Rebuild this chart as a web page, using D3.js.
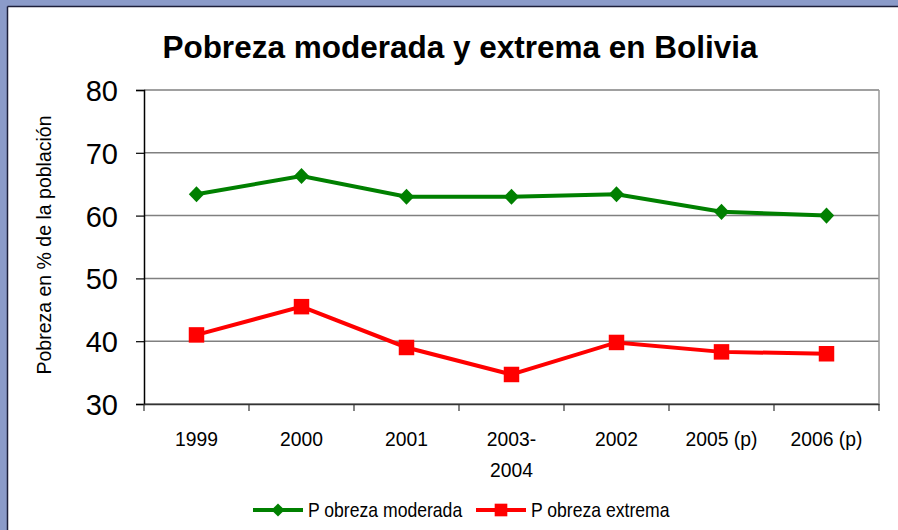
<!DOCTYPE html>
<html>
<head>
<meta charset="utf-8">
<script src="https://cdn.jsdelivr.net/npm/d3@7/dist/d3.min.js"></script>
<style>
  body { margin: 0; background: #8b9bc9; }
  svg { display: block; }
  text { font-family: "Liberation Sans", Arial, sans-serif; fill: #000; }
</style>
</head>
<body>
<div class="chart"></div>
<script>
var width = 898,
    height = 530;

// data
var categories = ["1999", "2000", "2001", "2003-2004", "2002", "2005 (p)", "2006 (p)"];
var catLabels = [["1999"], ["2000"], ["2001"], ["2003-", "2004"], ["2002"], ["2005 (p)"], ["2006 (p)"]];
var moderada = [63.4, 66.3, 63.0, 63.0, 63.4, 60.6, 60.0];
var extrema = [41.0, 45.5, 39.0, 34.7, 39.8, 38.3, 38.0];
var yTicks = [30, 40, 50, 60, 70, 80];
var seriesNames = ["P obreza moderada", "P obreza extrema"];

var margin = {top: 90, right: 19, bottom: 126, left: 144};

var svg = d3.select(".chart").append("svg")
    .attr("width", width)
    .attr("height", height);

// frame: blue band top/left with dark edge
svg.append("rect").attr("x", 0).attr("y", 0).attr("width", width).attr("height", height).attr("fill", "#8b9bc9");
svg.append("rect").attr("x", 8).attr("y", 7).attr("width", width - 8).attr("height", height - 7).attr("fill", "#fff");
svg.append("line").attr("x1", 7.5).attr("x2", 7.5).attr("y1", 6.5).attr("y2", height).attr("stroke", "#1c1f3a").attr("stroke-width", 1.5);
svg.append("line").attr("x1", 7.5).attr("x2", width).attr("y1", 6.5).attr("y2", 6.5).attr("stroke", "#1c1f3a").attr("stroke-width", 1.5);

var x = d3.scaleBand()
    .domain(categories)
    .range([margin.left, width - margin.right]);

var y = d3.scaleLinear()
    .domain([30, 80])
    .range([height - margin.bottom, margin.top]);

// title
svg.append("text")
    .attr("x", 460)
    .attr("y", 58)
    .attr("text-anchor", "middle")
    .style("font-size", "31.5px")
    .style("font-weight", "bold")
    .text("Pobreza moderada y extrema en Bolivia");

// gridlines
svg.append("g")
  .selectAll("line")
  .data(yTicks)
  .enter().append("line")
    .attr("x1", margin.left)
    .attr("x2", width - margin.right)
    .attr("y1", function(d) { return y(d); })
    .attr("y2", function(d) { return y(d); })
    .attr("stroke", "#808080")
    .attr("stroke-width", 1.5);

// right border of plot
svg.append("line")
    .attr("x1", width - margin.right).attr("x2", width - margin.right)
    .attr("y1", y(80)).attr("y2", y(30))
    .attr("stroke", "#999").attr("stroke-width", 1.5);

// y axis
var yAxis = svg.append("g")
    .attr("transform", "translate(" + margin.left + ",0)")
    .call(d3.axisLeft(y).tickValues(yTicks).tickSize(8).tickPadding(18));
yAxis.select(".domain").attr("stroke", "#000").attr("stroke-width", 1.5);
yAxis.selectAll(".tick line").attr("stroke", "#000").attr("stroke-width", 1.2);
yAxis.selectAll("text")
    .style("font-size", "29px")
    .attr("dy", "0.36em");

// x axis with ticks at band edges
var xAxis = svg.append("g")
    .attr("transform", "translate(0," + y(30) + ")")
    .call(d3.axisBottom(x).tickSize(0).tickFormat(""));
xAxis.select(".domain").attr("stroke", "#333").attr("stroke-width", 1.5);
var edges = categories.map(function(c) { return x(c); }).concat([width - margin.right]);
xAxis.selectAll(".edge")
  .data(edges)
  .enter().append("line")
    .attr("class", "edge")
    .attr("x1", function(d) { return d; })
    .attr("x2", function(d) { return d; })
    .attr("y1", 0)
    .attr("y2", 7)
    .attr("stroke", "#333")
    .attr("stroke-width", 1.2);

var xlab = svg.append("g").selectAll("text")
  .data(categories)
  .enter().append("text")
    .attr("text-anchor", "middle")
    .attr("transform", function(d) { return "translate(" + (x(d) + x.bandwidth() / 2) + ",446) scale(0.92,1)"; })
    .style("font-size", "21px");
xlab.each(function(d, i) {
  var t = d3.select(this);
  catLabels[i].forEach(function(l, j) {
    t.append("tspan").attr("x", 0).attr("y", j * 31).text(l);
  });
});

// y axis title
svg.append("text")
    .attr("transform", "translate(51,245) rotate(-90)")
    .attr("text-anchor", "middle")
    .style("font-size", "19.5px")
    .text("Pobreza en % de la población");

var line = d3.line()
    .x(function(d, i) { return x(categories[i]) + x.bandwidth() / 2; })
    .y(function(d) { return y(d); });

var diamond = d3.symbol().type(d3.symbolDiamond2).size(150);
var square = d3.symbol().type(d3.symbolSquare).size(240);

function drawSeries(vals, color, sym, sx, sy) {
  svg.append("path")
      .attr("d", line(vals))
      .attr("fill", "none")
      .attr("stroke", color)
      .attr("stroke-width", 4);
  svg.append("g").selectAll("path")
    .data(vals)
    .enter().append("path")
      .attr("d", sym)
      .attr("fill", color)
      .attr("transform", function(d, i) {
        return "translate(" + (x(categories[i]) + x.bandwidth() / 2) + "," + y(d) + ") scale(" + sx + "," + sy + ")";
      });
}

drawSeries(moderada, "#008000", diamond, 1, 1.05);
drawSeries(extrema, "#ff0000", square, 1, 1);

// legend
var legend = [
  {name: seriesNames[0], color: "#008000", sym: diamond, x0: 253},
  {name: seriesNames[1], color: "#ff0000", sym: square, x0: 476}
];
var lg = svg.append("g").selectAll("g")
  .data(legend)
  .enter().append("g")
    .attr("transform", function(d) { return "translate(" + d.x0 + ",510)"; });
lg.append("line")
    .attr("x1", 0).attr("x2", 50)
    .attr("y1", 0).attr("y2", 0)
    .attr("stroke", function(d) { return d.color; })
    .attr("stroke-width", 4);
lg.append("path")
    .attr("d", function(d) { return d.sym === diamond ? d3.symbol().type(d3.symbolDiamond2).size(110)() : d3.symbol().type(d3.symbolSquare).size(160)(); })
    .attr("fill", function(d) { return d.color; })
    .attr("transform", "translate(25,0)");
lg.append("text")
    .attr("transform", "translate(55,6.5) scale(0.88,1)")
    .style("font-size", "20px")
    .text(function(d) { return d.name; });
</script>
</body>
</html>
